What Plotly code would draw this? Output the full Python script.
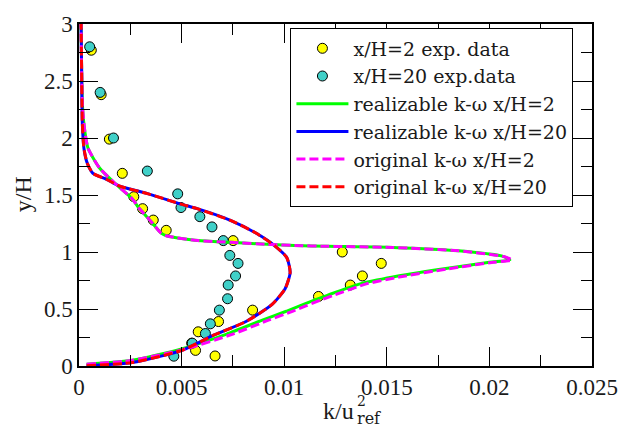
import plotly.graph_objects as go

# Experimental profiles of turbulent kinetic energy k/u_ref^2 vs y/H
exp2_k = [0.00060, 0.00108, 0.00148, 0.00211, 0.00267, 0.00310, 0.00362, 0.00425,
          0.00751, 0.01283, 0.01473, 0.01381, 0.01322, 0.01167, 0.00846, 0.00680,
          0.00581, 0.00549, 0.00568, 0.00663]
exp2_y = [2.77, 2.38, 1.99, 1.69, 1.485, 1.38, 1.28, 1.19,
          1.10, 1.00, 0.90, 0.79, 0.71, 0.61, 0.49, 0.39,
          0.30, 0.20, 0.137, 0.088]

exp20_k = [0.00052, 0.00103, 0.00168, 0.00333, 0.00481, 0.00497, 0.00589, 0.00648,
           0.00703, 0.00735, 0.00775, 0.00763, 0.00727, 0.00724, 0.00684, 0.00640,
           0.00616, 0.00552, 0.00462]
exp20_y = [2.80, 2.40, 2.00, 1.71, 1.51, 1.39, 1.31, 1.22,
           1.10, 0.97, 0.90, 0.79, 0.71, 0.59, 0.49, 0.37,
           0.285, 0.20, 0.086]

# Model predictions
real2_y = [0.015, 0.05, 0.15, 0.28, 0.40, 0.48, 0.58, 0.62, 0.72, 0.78, 0.85, 0.91,
           0.93, 0.96, 1.01, 1.04, 1.05, 1.057, 1.065, 1.085, 1.10, 1.14, 1.166,
           1.27, 1.39, 1.466, 1.594, 1.737, 1.91, 2.05, 2.28, 2.57, 3.0]
real2_k = [0.00037, 0.0026, 0.0050, 0.0072, 0.0089, 0.0101, 0.0115, 0.0121, 0.0137,
           0.0153, 0.0177, 0.0200, 0.0210, 0.0207, 0.0185, 0.0153, 0.0121, 0.0105,
           0.0094, 0.0074, 0.0058, 0.0043, 0.0040, 0.0035, 0.0029, 0.0026, 0.0018,
           0.0010, 0.00044, 0.00029, 0.00017, 0.00013, 0.0001]

orig2_y = real2_y
orig2_k = [0.00037, 0.0026, 0.0052, 0.0075, 0.0092, 0.0104, 0.0118, 0.0124, 0.0140,
           0.0156, 0.0179, 0.0202, 0.0211, 0.0207, 0.0185, 0.0153, 0.0121, 0.0105,
           0.0094, 0.0074, 0.0058, 0.0043, 0.0040, 0.0035, 0.0029, 0.0026, 0.0018,
           0.0010, 0.00044, 0.00029, 0.00017, 0.00013, 0.0001]

real20_y = [0.003, 0.03, 0.14, 0.27, 0.39, 0.54, 0.68, 0.82, 0.95, 1.05, 1.166,
            1.28, 1.38, 1.42, 1.51, 1.58, 1.64, 1.69, 1.78, 1.91, 2.14, 2.57, 3.0]
real20_k = [0.00037, 0.0026, 0.00505, 0.00656, 0.00814, 0.00941, 0.01005, 0.01029,
            0.01013, 0.00957, 0.00862, 0.00735, 0.00576, 0.00497, 0.00338, 0.00195,
            0.00132, 0.00068, 0.0004, 0.00024, 0.00016, 0.00013, 0.0001]
orig20_y = real20_y
orig20_k = real20_k

SERIF = "Liberation Serif"
LEGEND_FONT = "DejaVu Serif"
INK = "#1a1a1a"

fig = go.Figure()

marker_line = dict(color="black", width=1)
fig.add_trace(go.Scatter(x=exp2_k, y=exp2_y, mode="markers", name="x/H=2 exp. data",
                         marker=dict(size=10, color="#ffff00", line=marker_line)))
fig.add_trace(go.Scatter(x=exp20_k, y=exp20_y, mode="markers", name="x/H=20 exp.data",
                         marker=dict(size=10, color="#40d0c8", line=marker_line)))

line_kw = dict(mode="lines", line_shape="spline")
fig.add_trace(go.Scatter(x=real2_k, y=real2_y, name="realizable k-\u03c9 x/H=2",
                         line=dict(color="#00ff00", width=3, smoothing=0.6), **line_kw))
fig.add_trace(go.Scatter(x=real20_k, y=real20_y, name="realizable k-\u03c9 x/H=20",
                         line=dict(color="#0000ff", width=3, smoothing=0.6), **line_kw))
fig.add_trace(go.Scatter(x=orig2_k, y=orig2_y, name="original k-\u03c9 x/H=2",
                         line=dict(color="#ff00ff", width=3, dash="9px,4px", smoothing=0.6),
                         **line_kw))
fig.add_trace(go.Scatter(x=orig20_k, y=orig20_y, name="original k-\u03c9 x/H=20",
                         line=dict(color="#ff0000", width=3, dash="9px,4px", smoothing=0.6),
                         **line_kw))

axis_common = dict(
    showgrid=False, zeroline=False, showline=True, linecolor="black", linewidth=1.5,
    mirror="ticks", ticks="inside", ticklen=19, tickwidth=1.2, tickcolor="black",
    tickfont=dict(family=SERIF, size=23, color=INK),
)

fig.update_xaxes(range=[0, 0.025], dtick=0.005, tickformat="~g",
                 minor=dict(dtick=0.0025, ticks="inside", ticklen=11, tickcolor="black",
                            tickwidth=1.2),
                 **axis_common)
fig.update_yaxes(range=[0, 3], dtick=0.5, tickformat="~g",
                 minor=dict(dtick=0.25, ticks="inside", ticklen=11, tickcolor="black",
                            tickwidth=1.2),
                 **axis_common)

fig.update_layout(
    width=630, height=430,
    margin=dict(l=79, r=26, t=16, b=64),
    plot_bgcolor="white", paper_bgcolor="white",
    font=dict(family=SERIF, color=INK),
    legend=dict(x=0.9638, y=0.987, xanchor="right", yanchor="top",
                bordercolor="black", borderwidth=1, bgcolor="white",
                font=dict(family=LEGEND_FONT, size=19, color=INK),
                itemwidth=52, tracegroupgap=0),
    annotations=[
        dict(text="y/H", x=-0.1086, y=0.503, xref="paper", yref="paper",
             xanchor="center", yanchor="middle",
             textangle=-90, showarrow=False, font=dict(family=SERIF, size=24)),
        # x-axis title: k/u with the exponent 2 stacked above the subscript "ref"
        dict(text="k/u", x=0.537, y=-0.131, xref="paper", yref="paper",
             xanchor="right", yanchor="middle", showarrow=False,
             borderpad=0, borderwidth=0,
             font=dict(family=SERIF, size=24)),
        dict(text="2<br><span style='font-size:16px'>ref</span>",
             x=0.541, y=-0.131, xref="paper", yref="paper",
             xanchor="left", yanchor="middle", align="left", showarrow=False,
             borderpad=0, borderwidth=0, font=dict(family=LEGEND_FONT, size=14)),
    ],
)

fig.write_html("out.html")
